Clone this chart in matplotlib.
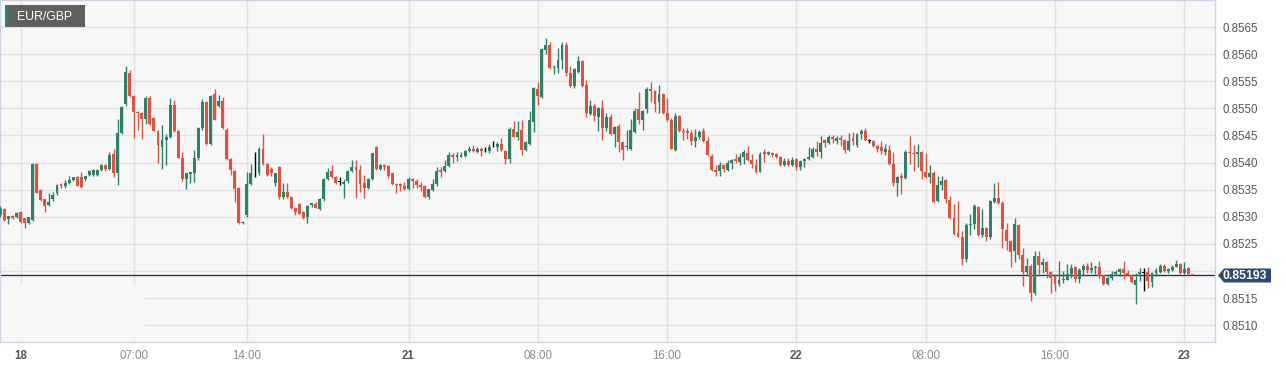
import matplotlib
matplotlib.use("Agg")
import matplotlib.pyplot as plt
from matplotlib.patches import Rectangle, Polygon
import numpy as np

plt.rcParams['font.family'] = ['Liberation Sans', 'DejaVu Sans']

# EUR/GBP 15 minute candles
opens = [
    0.85303, 0.85314, 0.85296, 0.85301, 0.85300, 0.85309, 0.85297, 0.85289, 0.85294, 0.85398,
    0.85350, 0.85332, 0.85322, 0.85333, 0.85343, 0.85360, 0.85356, 0.85363, 0.85368, 0.85374,
    0.85374, 0.85369, 0.85377, 0.85377, 0.85378, 0.85387, 0.85395, 0.85389, 0.85415, 0.85381,
    0.85454, 0.85509, 0.85565, 0.85523, 0.85494, 0.85491, 0.85481, 0.85520, 0.85483, 0.85458,
    0.85429, 0.85441, 0.85448, 0.85507, 0.85458, 0.85408, 0.85369, 0.85379, 0.85380, 0.85408,
    0.85463, 0.85512, 0.85434, 0.85526, 0.85504, 0.85513, 0.85461, 0.85406, 0.85385, 0.85353,
    0.85288, 0.85304, 0.85360, 0.85380, 0.85380, 0.85425, 0.85398, 0.85389, 0.85362, 0.85391,
    0.85337, 0.85345, 0.85336, 0.85316, 0.85323, 0.85309, 0.85300, 0.85321, 0.85324, 0.85314,
    0.85332, 0.85369, 0.85384, 0.85373, 0.85364, 0.85360, 0.85366, 0.85385, 0.85391, 0.85387,
    0.85363, 0.85354, 0.85370, 0.85428, 0.85389, 0.85396, 0.85394, 0.85380, 0.85361, 0.85360,
    0.85357, 0.85351, 0.85369, 0.85366, 0.85358, 0.85357, 0.85337, 0.85350, 0.85360, 0.85386,
    0.85384, 0.85393, 0.85414, 0.85411, 0.85411, 0.85412, 0.85422, 0.85426, 0.85420, 0.85425,
    0.85421, 0.85421, 0.85430, 0.85429, 0.85435, 0.85421, 0.85407, 0.85462, 0.85448, 0.85461,
    0.85424, 0.85435, 0.85475, 0.85535, 0.85521, 0.85608, 0.85617, 0.85574, 0.85575, 0.85589,
    0.85617, 0.85565, 0.85542, 0.85568, 0.85588, 0.85543, 0.85489, 0.85504, 0.85485, 0.85500,
    0.85464, 0.85484, 0.85452, 0.85467, 0.85438, 0.85428, 0.85426, 0.85457, 0.85498, 0.85478,
    0.85498, 0.85535, 0.85532, 0.85511, 0.85526, 0.85492, 0.85479, 0.85424, 0.85486, 0.85459,
    0.85458, 0.85454, 0.85440, 0.85447, 0.85458, 0.85440, 0.85413, 0.85386, 0.85385, 0.85395,
    0.85386, 0.85400, 0.85406, 0.85402, 0.85411, 0.85418, 0.85404, 0.85395, 0.85383, 0.85419,
    0.85416, 0.85418, 0.85416, 0.85410, 0.85396, 0.85403, 0.85395, 0.85407, 0.85392, 0.85403,
    0.85406, 0.85410, 0.85426, 0.85419, 0.85441, 0.85436, 0.85447, 0.85439, 0.85446, 0.85441,
    0.85423, 0.85446, 0.85433, 0.85453, 0.85459, 0.85440, 0.85440, 0.85431, 0.85428, 0.85420,
    0.85424, 0.85398, 0.85362, 0.85375, 0.85371, 0.85420, 0.85418, 0.85415, 0.85420, 0.85382,
    0.85373, 0.85381, 0.85330, 0.85358, 0.85368, 0.85331, 0.85298, 0.85270, 0.85263, 0.85223,
    0.85284, 0.85286, 0.85319, 0.85266, 0.85280, 0.85262, 0.85328, 0.85334, 0.85326, 0.85276,
    0.85256, 0.85236, 0.85285, 0.85229, 0.85198, 0.85210, 0.85159, 0.85228, 0.85211, 0.85216,
    0.85198, 0.85190, 0.85176, 0.85184, 0.85184, 0.85195, 0.85207, 0.85185, 0.85201, 0.85209,
    0.85202, 0.85205, 0.85207, 0.85192, 0.85176, 0.85188, 0.85195, 0.85198, 0.85203, 0.85196,
    0.85193, 0.85174, 0.85195, 0.85197, 0.85198, 0.85179, 0.85196, 0.85199, 0.85210, 0.85200,
    0.85202, 0.85208, 0.85212, 0.85196, 0.85205, 0.85194,
]
highs = [
    0.85320, 0.85316, 0.85301, 0.85303, 0.85308, 0.85310, 0.85298, 0.85300, 0.85400, 0.85400,
    0.85352, 0.85333, 0.85344, 0.85346, 0.85360, 0.85362, 0.85368, 0.85375, 0.85374, 0.85376,
    0.85383, 0.85376, 0.85386, 0.85388, 0.85388, 0.85397, 0.85397, 0.85420, 0.85425, 0.85480,
    0.85504, 0.85578, 0.85571, 0.85525, 0.85496, 0.85493, 0.85522, 0.85522, 0.85485, 0.85460,
    0.85469, 0.85453, 0.85520, 0.85515, 0.85460, 0.85420, 0.85381, 0.85383, 0.85423, 0.85465,
    0.85517, 0.85514, 0.85525, 0.85535, 0.85524, 0.85521, 0.85463, 0.85408, 0.85387, 0.85355,
    0.85292, 0.85383, 0.85398, 0.85420, 0.85428, 0.85453, 0.85400, 0.85392, 0.85381, 0.85394,
    0.85362, 0.85362, 0.85338, 0.85318, 0.85325, 0.85311, 0.85322, 0.85326, 0.85327, 0.85334,
    0.85372, 0.85390, 0.85395, 0.85375, 0.85374, 0.85370, 0.85386, 0.85404, 0.85405, 0.85396,
    0.85377, 0.85372, 0.85418, 0.85430, 0.85398, 0.85398, 0.85396, 0.85381, 0.85362, 0.85363,
    0.85365, 0.85373, 0.85371, 0.85369, 0.85364, 0.85359, 0.85352, 0.85369, 0.85391, 0.85391,
    0.85404, 0.85420, 0.85417, 0.85420, 0.85420, 0.85424, 0.85430, 0.85432, 0.85428, 0.85428,
    0.85428, 0.85434, 0.85439, 0.85438, 0.85445, 0.85423, 0.85465, 0.85477, 0.85477, 0.85478,
    0.85440, 0.85495, 0.85539, 0.85549, 0.85611, 0.85629, 0.85623, 0.85580, 0.85612, 0.85622,
    0.85623, 0.85579, 0.85575, 0.85596, 0.85590, 0.85552, 0.85515, 0.85509, 0.85503, 0.85515,
    0.85492, 0.85490, 0.85467, 0.85471, 0.85440, 0.85460, 0.85481, 0.85500, 0.85530, 0.85497,
    0.85539, 0.85549, 0.85534, 0.85544, 0.85528, 0.85519, 0.85482, 0.85492, 0.85487, 0.85464,
    0.85464, 0.85460, 0.85462, 0.85460, 0.85464, 0.85448, 0.85415, 0.85395, 0.85402, 0.85398,
    0.85404, 0.85406, 0.85416, 0.85418, 0.85423, 0.85430, 0.85416, 0.85407, 0.85420, 0.85425,
    0.85421, 0.85420, 0.85418, 0.85412, 0.85409, 0.85408, 0.85410, 0.85409, 0.85404, 0.85408,
    0.85428, 0.85428, 0.85440, 0.85449, 0.85444, 0.85450, 0.85451, 0.85449, 0.85450, 0.85443,
    0.85454, 0.85457, 0.85454, 0.85462, 0.85463, 0.85443, 0.85442, 0.85432, 0.85440, 0.85434,
    0.85433, 0.85419, 0.85376, 0.85381, 0.85423, 0.85449, 0.85432, 0.85434, 0.85422, 0.85417,
    0.85396, 0.85385, 0.85375, 0.85375, 0.85370, 0.85339, 0.85324, 0.85330, 0.85273, 0.85288,
    0.85305, 0.85323, 0.85320, 0.85314, 0.85282, 0.85331, 0.85363, 0.85365, 0.85329, 0.85288,
    0.85258, 0.85297, 0.85287, 0.85242, 0.85224, 0.85212, 0.85237, 0.85237, 0.85224, 0.85218,
    0.85200, 0.85192, 0.85218, 0.85200, 0.85212, 0.85213, 0.85209, 0.85205, 0.85212, 0.85215,
    0.85216, 0.85211, 0.85219, 0.85193, 0.85190, 0.85200, 0.85201, 0.85205, 0.85219, 0.85202,
    0.85195, 0.85196, 0.85206, 0.85206, 0.85208, 0.85198, 0.85205, 0.85213, 0.85213, 0.85206,
    0.85211, 0.85220, 0.85214, 0.85217, 0.85207, 0.85195,
]
lows = [
    0.85300, 0.85293, 0.85287, 0.85296, 0.85298, 0.85288, 0.85280, 0.85287, 0.85292, 0.85343,
    0.85330, 0.85309, 0.85320, 0.85330, 0.85341, 0.85354, 0.85354, 0.85361, 0.85366, 0.85356,
    0.85353, 0.85366, 0.85375, 0.85375, 0.85376, 0.85385, 0.85385, 0.85387, 0.85374, 0.85358,
    0.85452, 0.85505, 0.85521, 0.85445, 0.85460, 0.85443, 0.85472, 0.85470, 0.85458, 0.85400,
    0.85389, 0.85395, 0.85446, 0.85456, 0.85408, 0.85366, 0.85352, 0.85363, 0.85365, 0.85405,
    0.85461, 0.85432, 0.85432, 0.85478, 0.85502, 0.85462, 0.85404, 0.85377, 0.85328, 0.85287,
    0.85286, 0.85300, 0.85358, 0.85374, 0.85378, 0.85396, 0.85376, 0.85376, 0.85356, 0.85332,
    0.85332, 0.85335, 0.85315, 0.85303, 0.85305, 0.85296, 0.85289, 0.85319, 0.85316, 0.85312,
    0.85330, 0.85367, 0.85372, 0.85360, 0.85358, 0.85334, 0.85362, 0.85383, 0.85334, 0.85346,
    0.85334, 0.85352, 0.85368, 0.85387, 0.85386, 0.85387, 0.85372, 0.85359, 0.85344, 0.85348,
    0.85349, 0.85349, 0.85353, 0.85354, 0.85348, 0.85334, 0.85333, 0.85348, 0.85356, 0.85374,
    0.85382, 0.85391, 0.85400, 0.85403, 0.85410, 0.85410, 0.85420, 0.85420, 0.85418, 0.85413,
    0.85419, 0.85418, 0.85429, 0.85421, 0.85421, 0.85398, 0.85399, 0.85447, 0.85441, 0.85414,
    0.85422, 0.85433, 0.85457, 0.85506, 0.85519, 0.85601, 0.85573, 0.85563, 0.85566, 0.85572,
    0.85560, 0.85539, 0.85537, 0.85566, 0.85540, 0.85485, 0.85488, 0.85477, 0.85459, 0.85442,
    0.85458, 0.85451, 0.85428, 0.85420, 0.85405, 0.85423, 0.85423, 0.85454, 0.85471, 0.85461,
    0.85491, 0.85512, 0.85494, 0.85492, 0.85489, 0.85477, 0.85425, 0.85422, 0.85456, 0.85441,
    0.85443, 0.85433, 0.85429, 0.85443, 0.85438, 0.85412, 0.85385, 0.85376, 0.85375, 0.85383,
    0.85385, 0.85388, 0.85400, 0.85395, 0.85397, 0.85403, 0.85390, 0.85380, 0.85382, 0.85401,
    0.85414, 0.85411, 0.85408, 0.85394, 0.85394, 0.85393, 0.85393, 0.85387, 0.85387, 0.85392,
    0.85404, 0.85408, 0.85412, 0.85409, 0.85429, 0.85434, 0.85436, 0.85435, 0.85431, 0.85418,
    0.85421, 0.85433, 0.85429, 0.85444, 0.85439, 0.85437, 0.85428, 0.85420, 0.85415, 0.85414,
    0.85395, 0.85357, 0.85338, 0.85342, 0.85370, 0.85398, 0.85385, 0.85392, 0.85369, 0.85371,
    0.85362, 0.85326, 0.85327, 0.85349, 0.85325, 0.85296, 0.85266, 0.85262, 0.85211, 0.85217,
    0.85266, 0.85278, 0.85264, 0.85263, 0.85256, 0.85259, 0.85325, 0.85323, 0.85242, 0.85238,
    0.85208, 0.85216, 0.85223, 0.85173, 0.85195, 0.85145, 0.85156, 0.85194, 0.85197, 0.85188,
    0.85160, 0.85163, 0.85172, 0.85178, 0.85183, 0.85188, 0.85180, 0.85177, 0.85191, 0.85197,
    0.85197, 0.85194, 0.85188, 0.85174, 0.85174, 0.85183, 0.85192, 0.85190, 0.85186, 0.85191,
    0.85177, 0.85139, 0.85182, 0.85164, 0.85168, 0.85171, 0.85190, 0.85196, 0.85198, 0.85196,
    0.85200, 0.85207, 0.85195, 0.85194, 0.85192, 0.85192,
]
closes = [
    0.85317, 0.85294, 0.85301, 0.85297, 0.85307, 0.85290, 0.85289, 0.85299, 0.85398, 0.85344,
    0.85331, 0.85320, 0.85328, 0.85341, 0.85358, 0.85356, 0.85363, 0.85368, 0.85373, 0.85357,
    0.85355, 0.85375, 0.85384, 0.85386, 0.85386, 0.85395, 0.85389, 0.85414, 0.85380, 0.85454,
    0.85502, 0.85568, 0.85523, 0.85493, 0.85491, 0.85480, 0.85520, 0.85471, 0.85459, 0.85432,
    0.85441, 0.85448, 0.85507, 0.85458, 0.85409, 0.85369, 0.85380, 0.85382, 0.85408, 0.85463,
    0.85512, 0.85434, 0.85523, 0.85479, 0.85513, 0.85464, 0.85406, 0.85386, 0.85352, 0.85288,
    0.85291, 0.85360, 0.85380, 0.85380, 0.85426, 0.85398, 0.85377, 0.85380, 0.85380, 0.85337,
    0.85345, 0.85337, 0.85316, 0.85308, 0.85306, 0.85297, 0.85320, 0.85325, 0.85317, 0.85332,
    0.85369, 0.85383, 0.85374, 0.85362, 0.85364, 0.85365, 0.85385, 0.85391, 0.85387, 0.85361,
    0.85354, 0.85370, 0.85417, 0.85389, 0.85395, 0.85391, 0.85376, 0.85360, 0.85358, 0.85357,
    0.85351, 0.85369, 0.85366, 0.85358, 0.85355, 0.85337, 0.85351, 0.85360, 0.85384, 0.85383,
    0.85393, 0.85414, 0.85411, 0.85414, 0.85414, 0.85422, 0.85425, 0.85422, 0.85425, 0.85421,
    0.85421, 0.85429, 0.85430, 0.85435, 0.85424, 0.85407, 0.85462, 0.85448, 0.85456, 0.85424,
    0.85438, 0.85478, 0.85537, 0.85523, 0.85609, 0.85617, 0.85575, 0.85576, 0.85589, 0.85617,
    0.85565, 0.85542, 0.85573, 0.85587, 0.85542, 0.85492, 0.85504, 0.85486, 0.85500, 0.85464,
    0.85484, 0.85452, 0.85465, 0.85438, 0.85423, 0.85431, 0.85460, 0.85495, 0.85478, 0.85495,
    0.85535, 0.85532, 0.85509, 0.85526, 0.85491, 0.85478, 0.85426, 0.85486, 0.85458, 0.85457,
    0.85454, 0.85440, 0.85447, 0.85456, 0.85439, 0.85414, 0.85386, 0.85383, 0.85395, 0.85389,
    0.85400, 0.85405, 0.85403, 0.85411, 0.85420, 0.85405, 0.85397, 0.85383, 0.85416, 0.85416,
    0.85419, 0.85414, 0.85410, 0.85395, 0.85403, 0.85395, 0.85405, 0.85392, 0.85403, 0.85406,
    0.85410, 0.85425, 0.85419, 0.85437, 0.85436, 0.85448, 0.85443, 0.85445, 0.85441, 0.85423,
    0.85440, 0.85439, 0.85453, 0.85459, 0.85442, 0.85440, 0.85430, 0.85426, 0.85422, 0.85425,
    0.85397, 0.85362, 0.85374, 0.85371, 0.85420, 0.85417, 0.85415, 0.85419, 0.85384, 0.85373,
    0.85380, 0.85328, 0.85358, 0.85366, 0.85332, 0.85298, 0.85269, 0.85263, 0.85223, 0.85285,
    0.85286, 0.85320, 0.85266, 0.85280, 0.85262, 0.85329, 0.85334, 0.85325, 0.85277, 0.85255,
    0.85235, 0.85286, 0.85229, 0.85198, 0.85210, 0.85159, 0.85228, 0.85211, 0.85217, 0.85198,
    0.85188, 0.85176, 0.85184, 0.85186, 0.85195, 0.85206, 0.85185, 0.85201, 0.85209, 0.85202,
    0.85205, 0.85208, 0.85190, 0.85176, 0.85188, 0.85194, 0.85199, 0.85204, 0.85196, 0.85192,
    0.85180, 0.85183, 0.85199, 0.85197, 0.85181, 0.85196, 0.85201, 0.85209, 0.85200, 0.85204,
    0.85208, 0.85213, 0.85196, 0.85204, 0.85194, 0.85193,
]

last_price = 0.85193
tick_index = [5, 33, 61, 101, 133, 165, 197, 229, 261, 293]
tick_labels = ["18", "07:00", "14:00", "21", "08:00", "16:00", "22", "08:00", "16:00", "23"]
day_labels = {"18", "21", "22", "23"}

W, H = 1286, 368
fig = plt.figure(figsize=(W / 100, H / 100), dpi=100)
fig.patch.set_facecolor('white')
ax = fig.add_axes([0 / W, (H - 342) / H, 1215 / W, 342 / H])
ax.set_facecolor('#f7f7f7')

o = np.array(opens)
h = np.array(highs)
l = np.array(lows)
c = np.array(closes)
idx = np.arange(len(o))

green, red = '#2e8068', '#db5440'
cols = np.where(np.isclose(c, o), 'black', np.where(c > o, green, red))

ax.vlines(idx, np.minimum(l, np.minimum(o, c)), np.maximum(h, np.maximum(o, c)),
          colors=cols, linewidth=1, zorder=3)
body = np.maximum(np.abs(c - o), 0.000012)
ax.bar(idx, body, 0.72, np.minimum(o, c), color=cols, linewidth=0, zorder=4)

ax.axhline(last_price, color='#1e3a62', lw=1, zorder=2)

ax.set_xlim(-0.1, 300.6)
ax.set_ylim(0.85069, 0.85700)

yt = np.arange(0.8510, 0.85651, 0.0005)
ax.set_yticks(yt)
# the 0.8520 label sits under the last price tag
ax.set_yticklabels(['' if abs(v - 0.8520) < 1e-6 else '%.4f' % v for v in yt])
ax.yaxis.tick_right()
ax.tick_params(axis='y', length=0, pad=5.5, labelsize=8.3, labelcolor='#555555')

ax.set_xticks(tick_index)
ax.set_xticklabels(tick_labels)
ax.tick_params(axis='x', length=0, pad=6, labelsize=8.3)
for t in ax.get_xticklabels():
    if t.get_text() in day_labels:
        t.set_fontweight('bold')
        t.set_color('#555555')
    else:
        t.set_color('#8a8a8a')

ax.set_axisbelow(True)
ax.grid(True, color='#e2e2e2', lw=1)
for s in ax.spines.values():
    s.set_color('#cfd5e6')
    s.set_linewidth(1)

# blank patch in lower left corner (no grid there)
ax.add_patch(Rectangle((0, 2 / 342), 145 / 1215, 55 / 342, transform=ax.transAxes,
                       facecolor='#f7f7f7', edgecolor='none', zorder=1))

# symbol badge
fig.patches.append(Rectangle((5 / W, 1 - 27 / H), 80 / W, 22 / H, transform=fig.transFigure,
                             facecolor='#5f5f5f', edgecolor='none'))
fig.patches.append(Rectangle((5 / W, 1 - 27 / H), 3 / W, 22 / H, transform=fig.transFigure,
                             facecolor=green, edgecolor='none'))
fig.text(17 / W, 1 - 16.5 / H, "EUR/GBP", color='white', fontsize=8.8, va='center', ha='left')

# last price tag
tag = [(1218, 275.5), (1224, 268.5), (1271, 268.5), (1271, 282.5), (1224, 282.5)]
fig.patches.append(Polygon([(x / W, 1 - y / H) for x, y in tag], closed=True,
                           transform=fig.transFigure, facecolor='#2c4a6e', edgecolor='none'))
fig.text(1245 / W, 1 - 276 / H, '%.5f' % last_price, color='white', fontsize=8.8,
         fontweight='bold', va='center', ha='center')

fig.savefig('out.png', dpi=100)
